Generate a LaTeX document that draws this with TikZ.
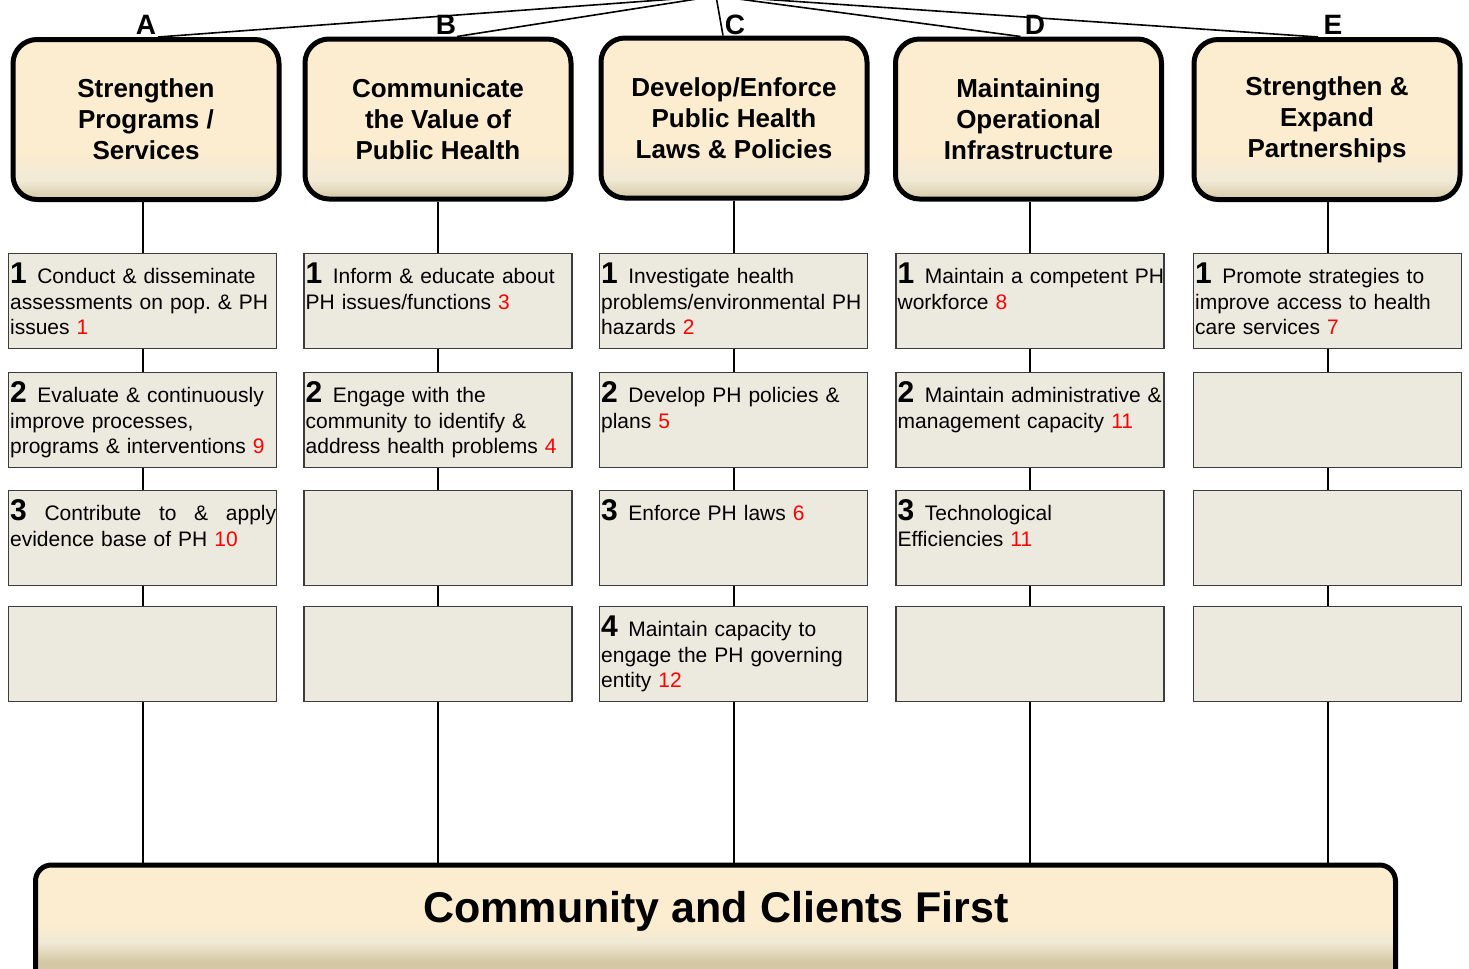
\documentclass[tikz,border=0pt]{standalone}
\usepackage{fontspec}
\setmainfont{Liberation Sans}
\usetikzlibrary{calc}

\definecolor{hdtop}{RGB}{252,236,208}
\definecolor{hdmid}{RGB}{241,234,214}
\definecolor{hdbot}{RGB}{213,201,165}
\definecolor{subfill}{RGB}{236,233,223}
\definecolor{subline}{RGB}{60,60,60}
\pgfdeclareverticalshading{hdshade}{100bp}{color(0bp)=(hdbot); color(25bp)=(hdbot); color(31bp)=(hdmid); color(40bp)=(hdtop); color(100bp)=(hdtop)}
\pgfdeclareverticalshading{firstshade}{100bp}{color(0bp)=(hdbot); color(35bp)=(hdbot); color(43bp)=(hdmid); color(50bp)=(hdtop); color(100bp)=(hdtop)}

\newcommand{\bignum}{\fontsize{15}{12.75}\selectfont\bfseries}
\newcommand{\essno}[1]{\textcolor{red}{#1}}

\tikzset{
  head/.style={draw, line width=2.5pt, rounded corners=12pt, shading=hdshade, minimum width=133pt, minimum height=80pt, inner sep=0pt, align=center, font=\fontsize{13}{15.5}\selectfont\bfseries},
  letter/.style={anchor=base, inner sep=0pt, font=\fontsize{14}{14}\selectfont\bfseries},
  sub/.style={draw=subline, line width=0.75pt, fill=subfill, minimum width=134pt, minimum height=47.3pt, inner sep=0pt},
  subtext/.style={anchor=north west, inner xsep=1pt, inner ysep=4.8pt, text width=140pt, align=left, font=\fontsize{10.5}{12.75}\selectfont},
  firstbox/.style={draw, line width=2.5pt, rounded corners=8pt, shading=firstshade, minimum width=680pt, minimum height=60pt, inner sep=0pt},
  firsttext/.style={anchor=base, inner sep=0pt, font=\fontsize{21.5}{25}\selectfont\bfseries},
  link/.style={line width=1pt},
  branch/.style={line width=0.8pt}
}

\begin{document}
\begin{tikzpicture}[x=0.5pt, y=-0.5pt]
  \useasboundingbox (0,0) rectangle (1469,969);

  % goal boxes
  \node[head] (hA) at (146,119.5) {Strengthen\\Programs /\\Services};
  \node[head] (hB) at (438,119) {Communicate\\the Value of\\Public Health};
  \node[head] (hC) at (734,118) {Develop/Enforce\\Public Health\\Laws \& Policies};
  \node[head] (hD) at (1028.5,119) {Maintaining\\Operational\\Infrastructure};
  \node[head] (hE) at (1327,119.5) {Strengthen \&\\Expand\\Partnerships};

  \node[letter] (lA) at (146,34) {A};
  \node[letter] (lB) at (446,34) {B};
  \node[letter] (lC) at (735,34) {C};
  \node[letter] (lD) at (1035,34) {D};
  \node[letter] (lE) at (1333,34) {E};

  \coordinate (root) at (716,-4);
  \draw[branch] (root) -- ([xshift=6pt]hA.north);
  \draw[branch] (root) -- ([xshift=9.5pt]hB.north);
  \draw[branch] (root) -- ([xshift=-5.5pt]hC.north);
  \draw[branch] (root) -- ([xshift=-4pt]hD.north);
  \draw[branch] (root) -- ([xshift=-4.5pt]hE.north);

  % column A
  \node[sub] (a1) at (142.5,301) {};
  \node[sub] (a2) at (142.5,420) {};
  \node[sub] (a3) at (142.5,538) {};
  \node[sub] (a4) at (142.5,654) {};
  \node[subtext] (a1t) at (a1.north west) {{\bignum 1}\enspace Conduct \& disseminate\\assessments on pop.\ \& PH\\issues \essno{1}};
  \node[subtext] (a2t) at (a2.north west) {{\bignum 2}\enspace Evaluate \& continuously\\improve processes,\\programs \& interventions \essno{9}};
  \node[subtext] (a3t) at (a3.north west) {\hbox to 133pt{{\bignum 3}\hfill Contribute\hfill to\hfill \&\hfill apply}\\evidence base of PH \essno{10}};

  % column B
  \node[sub] (b1) at (438,301) {};
  \node[sub] (b2) at (438,420) {};
  \node[sub] (b3) at (438,538) {};
  \node[sub] (b4) at (438,654) {};
  \node[subtext] (b1t) at (b1.north west) {{\bignum 1}\enspace Inform \& educate about\\PH issues/functions \essno{3}};
  \node[subtext] (b2t) at (b2.north west) {{\bignum 2}\enspace Engage with the\\community to identify \&\\address health problems \essno{4}};

  % column C
  \node[sub] (c1) at (733.5,301) {};
  \node[sub] (c2) at (733.5,420) {};
  \node[sub] (c3) at (733.5,538) {};
  \node[sub] (c4) at (733.5,654) {};
  \node[subtext] (c1t) at (c1.north west) {{\bignum 1}\enspace Investigate health\\problems/environmental PH\\hazards \essno{2}};
  \node[subtext] (c2t) at (c2.north west) {{\bignum 2}\enspace Develop PH policies \&\\plans \essno{5}};
  \node[subtext] (c3t) at (c3.north west) {{\bignum 3}\enspace Enforce PH laws \essno{6}};
  \node[subtext] (c4t) at (c4.north west) {{\bignum 4}\enspace Maintain capacity to\\engage the PH governing\\entity \essno{12}};

  % column D
  \node[sub] (d1) at (1030,301) {};
  \node[sub] (d2) at (1030,420) {};
  \node[sub] (d3) at (1030,538) {};
  \node[sub] (d4) at (1030,654) {};
  \node[subtext] (d1t) at (d1.north west) {{\bignum 1}\enspace Maintain a competent PH\\workforce \essno{8}};
  \node[subtext] (d2t) at (d2.north west) {{\bignum 2}\enspace Maintain administrative \&\\management capacity \essno{11}};
  \node[subtext] (d3t) at (d3.north west) {{\bignum 3}\enspace Technological\\Efficiencies \essno{11}};

  % column E
  \node[sub] (e1) at (1327.5,301) {};
  \node[sub] (e2) at (1327.5,420) {};
  \node[sub] (e3) at (1327.5,538) {};
  \node[sub] (e4) at (1327.5,654) {};
  \node[subtext] (e1t) at (e1.north west) {{\bignum 1}\enspace Promote strategies to\\improve access to health\\care services \essno{7}};

  % base
  \node[firstbox] (first) at (715.5,925) {};
  \node[firsttext] (firstt) at (716,922) {Community and Clients First};

  \draw[link] (a1 |- hA.south) -- (a1) -- (a2) -- (a3) -- (a4) -- (a4 |- first.north);
  \draw[link] (b1 |- hB.south) -- (b1) -- (b2) -- (b3) -- (b4) -- (b4 |- first.north);
  \draw[link] (c1 |- hC.south) -- (c1) -- (c2) -- (c3) -- (c4) -- (c4 |- first.north);
  \draw[link] (d1 |- hD.south) -- (d1) -- (d2) -- (d3) -- (d4) -- (d4 |- first.north);
  \draw[link] (e1 |- hE.south) -- (e1) -- (e2) -- (e3) -- (e4) -- (e4 |- first.north);
\end{tikzpicture}
\end{document}
